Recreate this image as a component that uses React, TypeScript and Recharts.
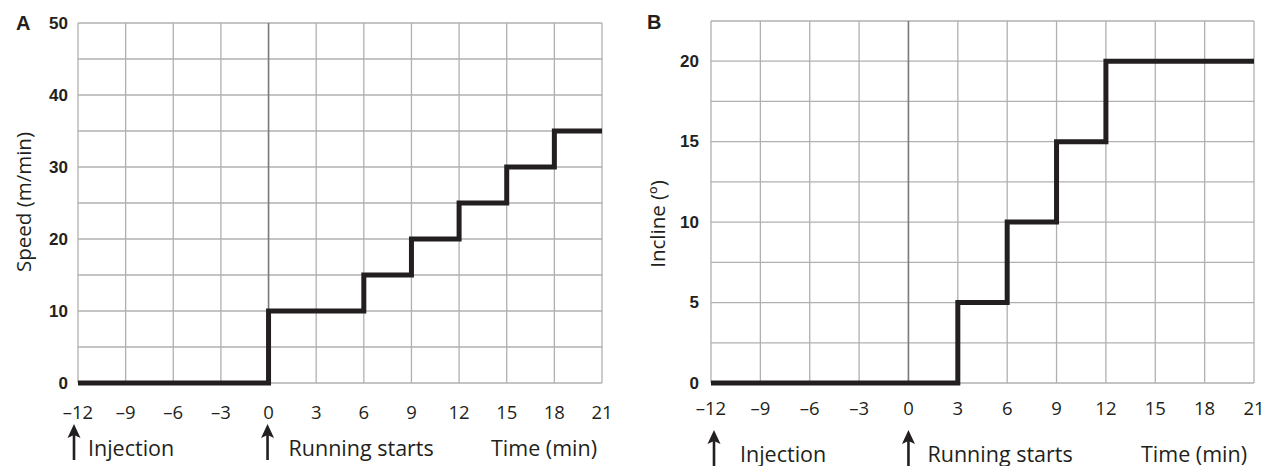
import React from 'react';
import { LineChart, Line, XAxis, YAxis, CartesianGrid, ReferenceLine, Label } from 'recharts';

const timeA = [-12, 0, 6, 9, 12, 15, 18, 21];
const speedA = [0, 10, 15, 20, 25, 30, 35, 35];
const timeB = [-12, 3, 6, 9, 12, 21];
const inclineB = [0, 5, 10, 15, 20, 20];
const xTicks = [-12, -9, -6, -3, 0, 3, 6, 9, 12, 15, 18, 21];
const yTicksA = [0, 5, 10, 15, 20, 25, 30, 35, 40, 45, 50];
const yLabelsA = [0, 10, 20, 30, 40, 50];
const yTicksB = [0, 2.5, 5, 7.5, 10, 12.5, 15, 17.5, 20, 22.5];
const yLabelsB = [0, 5, 10, 15, 20];
const eventTimes = [-12, 0];
const eventLabels = ['Injection', 'Running starts'];
const xTitle = 'Time (min)';

const dataA = timeA.map((t, i) => ({ t, v: speedA[i] }));
const dataB = timeB.map((t, i) => ({ t, v: inclineB[i] }));

const SANS = '"Open Sans", sans-serif';
const BOLD = '"Liberation Sans", Arial, sans-serif';
const INK = '#231f20';
const GRID = '#b0b0b0';

const fmt = (v: number) => (v < 0 ? '\u2013' + Math.abs(v) : String(v));

type XCfg = { labelDy: number; arrowTop: number; arrowBottom: number; textDy: number; arrowDx: number[]; textDx: number[]; titleDx: number };

const makeXTick = (cfg: XCfg) => (props: any) => {
  const { x, y, payload } = props;
  const v = payload.value;
  const idx = eventTimes.indexOf(v);
  return (
    <g>
      <text x={x} y={y + cfg.labelDy} textAnchor="middle" dominantBaseline="central" fontFamily={SANS} fontSize={18.5} fill={INK}>
        {fmt(v)}
      </text>
      {idx >= 0 && (
        <g>
          <line x1={x + cfg.arrowDx[idx]} x2={x + cfg.arrowDx[idx]} y1={y + cfg.arrowTop + 8} y2={y + cfg.arrowBottom} stroke={INK} strokeWidth={2.6} />
          <polygon
            points={`${x + cfg.arrowDx[idx]},${y + cfg.arrowTop} ${x + cfg.arrowDx[idx] - 6.5},${y + cfg.arrowTop + 14} ${x + cfg.arrowDx[idx]},${y + cfg.arrowTop + 11} ${x + cfg.arrowDx[idx] + 6.5},${y + cfg.arrowTop + 14}`}
            fill={INK}
          />
          <text x={x + cfg.textDx[idx]} y={y + cfg.textDy} dominantBaseline="central" fontFamily={SANS} fontSize={21.5} fill={INK}>
            {eventLabels[idx]}
          </text>
        </g>
      )}
      {v === xTicks[xTicks.length - 1] && (
        <text x={x + cfg.titleDx} y={y + cfg.textDy} textAnchor="end" dominantBaseline="central" fontFamily={SANS} fontSize={21.5} fill={INK}>
          {xTitle}
        </text>
      )}
    </g>
  );
};

const makeYTick = (labels: number[]) => (props: any) => {
  const { x, y, payload } = props;
  if (!labels.includes(payload.value)) return <g />;
  return (
    <text x={x} y={y} textAnchor="end" dominantBaseline="central" fontFamily={BOLD} fontWeight="bold" fontSize={17} fill={INK}>
      {payload.value}
    </text>
  );
};

const makeYTitle = (title: string, tx: number, dy: number, letter: string, lx: number, ly: number) => (props: any) => {
  const vb = props.viewBox || { x: 0, y: 0, width: 0, height: 0 };
  const cy = vb.y + vb.height / 2 + dy;
  return (
    <g>
      <text x={tx} y={cy} transform={`rotate(-90 ${tx} ${cy})`} textAnchor="middle" dominantBaseline="central" fontFamily={SANS} fontSize={20.5} fill={INK}>
        {title}
      </text>
      <text x={lx} y={ly} dominantBaseline="central" fontFamily={BOLD} fontWeight="bold" fontSize={20} fill={INK}>
        {letter}
      </text>
    </g>
  );
};

const xTickA = makeXTick({ labelDy: 28, arrowTop: 41, arrowBottom: 77, textDy: 64, arrowDx: [-4, -1], textDx: [10, 20], titleDx: -5 });
const xTickB = makeXTick({ labelDy: 24, arrowTop: 47, arrowBottom: 83, textDy: 70, arrowDx: [3, 0], textDx: [29, 19], titleDx: -7 });

export default function App() {
  return (
    <div style={{ position: 'absolute', left: 0, top: 0, width: 1270, height: 466, background: '#fff' }}>
      <div style={{ position: 'absolute', left: 0, top: 0 }}>
        <LineChart width={630} height={466} data={dataA} margin={{ top: 23, right: 28, bottom: 0, left: 0 }}>
          <CartesianGrid stroke={GRID} strokeWidth={1.3} />
          <XAxis dataKey="t" type="number" domain={[-12, 21]} ticks={xTicks} height={83} axisLine={false} tickLine={false} tickSize={0} tickMargin={0} tick={xTickA} interval={0} />
          <YAxis type="number" domain={[0, 50]} ticks={yTicksA} width={78} axisLine={false} tickLine={false} tickSize={0} tickMargin={10} tick={makeYTick(yLabelsA)} interval={0}>
            <Label content={makeYTitle('Speed (m/min)', 23, -1, 'A', 16, 23)} />
          </YAxis>
          <ReferenceLine x={0} stroke="#7a7a7a" strokeWidth={1.5} />
          <Line type="stepAfter" dataKey="v" stroke={INK} strokeWidth={5} dot={false} isAnimationActive={false} strokeLinejoin="miter" strokeLinecap="butt" />
        </LineChart>
      </div>
      <div style={{ position: 'absolute', left: 640, top: 0 }}>
        <LineChart width={630} height={466} data={dataB} margin={{ top: 21, right: 16, bottom: 0, left: 0 }}>
          <CartesianGrid stroke={GRID} strokeWidth={1.3} />
          <XAxis dataKey="t" type="number" domain={[-12, 21]} ticks={xTicks} height={83} axisLine={false} tickLine={false} tickSize={0} tickMargin={0} tick={xTickB} interval={0} />
          <YAxis type="number" domain={[0, 22.5]} ticks={yTicksB} width={71} axisLine={false} tickLine={false} tickSize={0} tickMargin={12} tick={makeYTick(yLabelsB)} interval={0}>
            <Label content={makeYTitle('Incline (\u00ba)', 17, 22, 'B', 7, 22)} />
          </YAxis>
          <ReferenceLine x={0} stroke="#7a7a7a" strokeWidth={1.5} />
          <Line type="stepAfter" dataKey="v" stroke={INK} strokeWidth={5} dot={false} isAnimationActive={false} strokeLinejoin="miter" strokeLinecap="butt" />
        </LineChart>
      </div>
    </div>
  );
}
